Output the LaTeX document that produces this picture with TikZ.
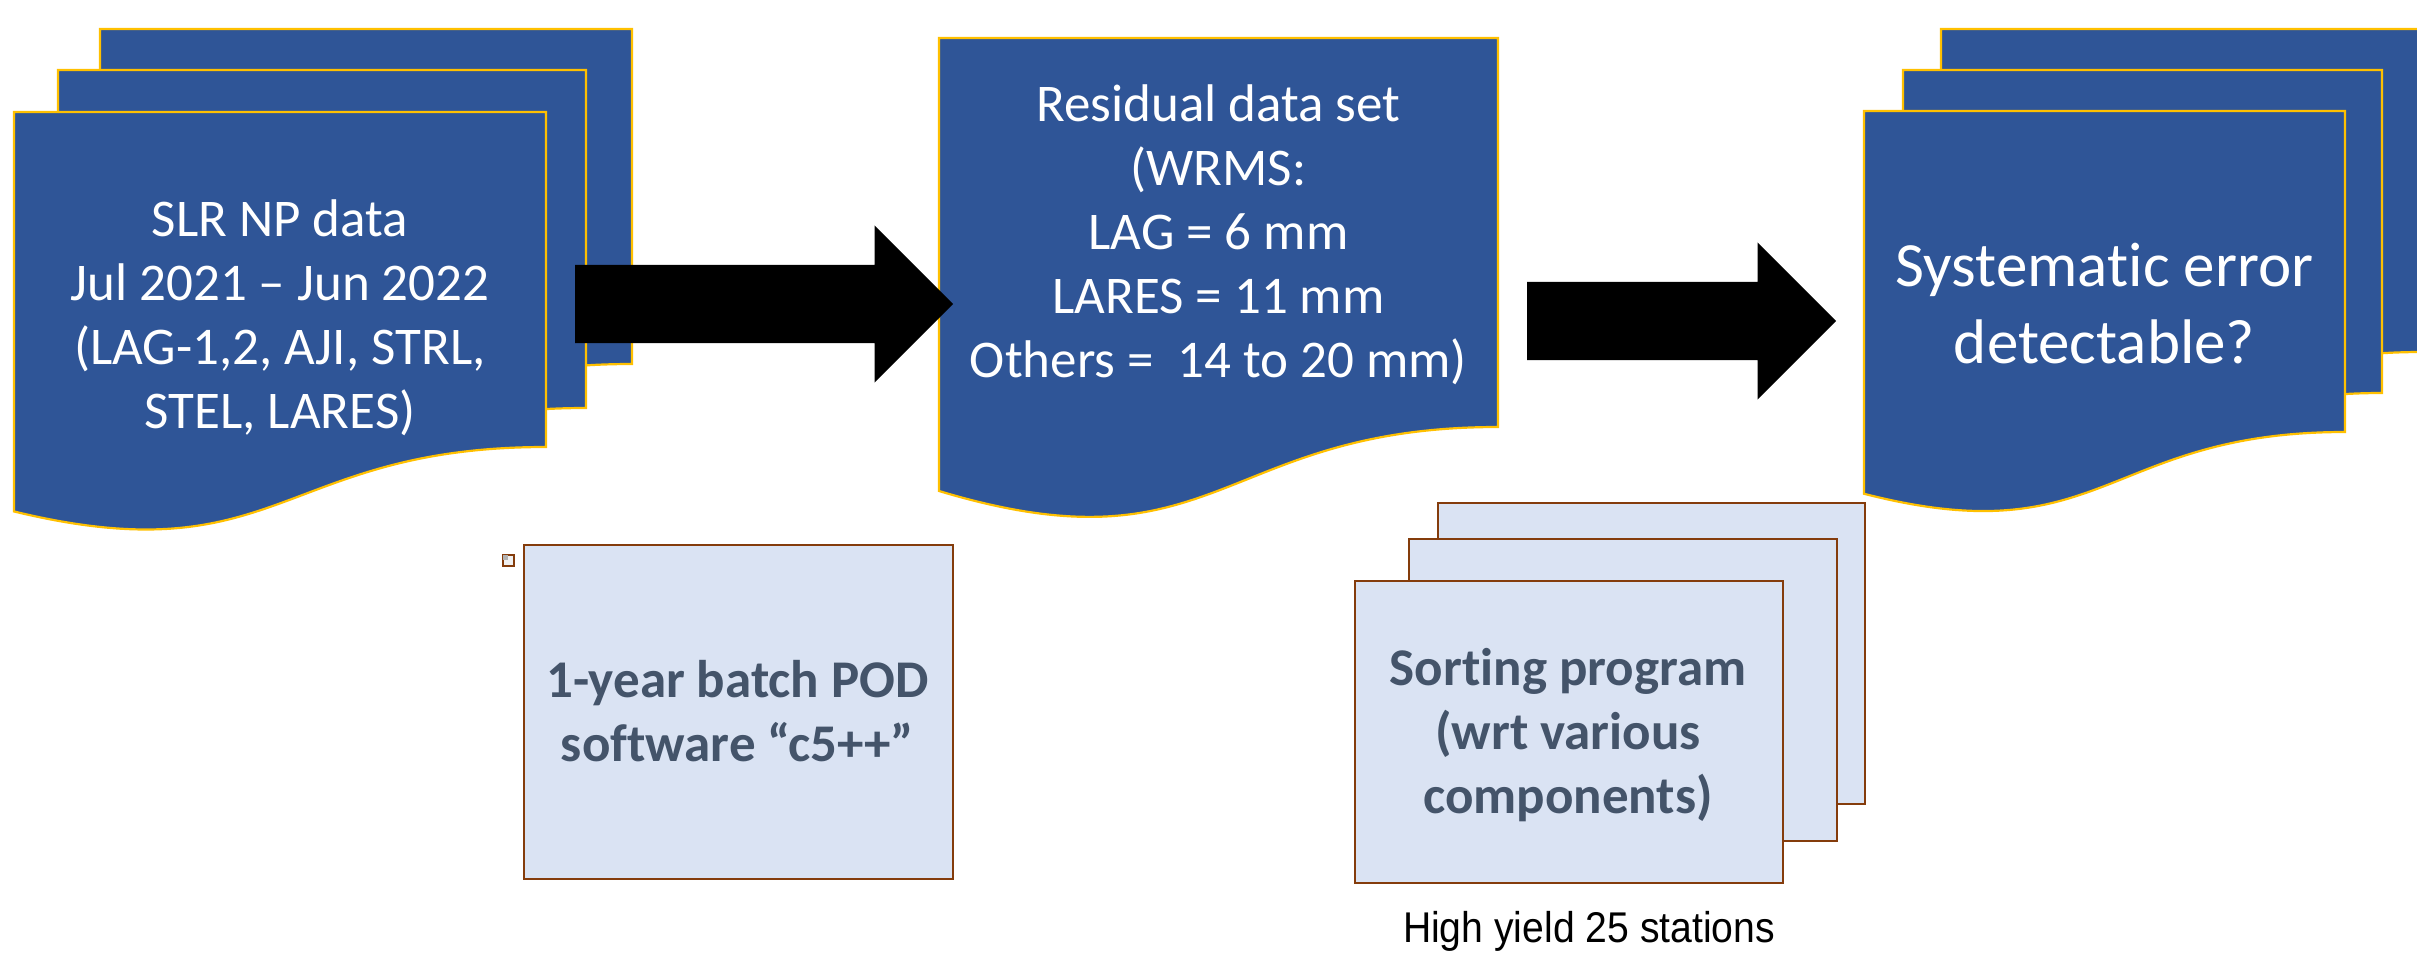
\documentclass[tikz,border=0pt]{standalone}
\usepackage{fontspec}
\setmainfont{Carlito}[Ligatures={TeX,NoCommon}]
\newfontfamily\narrowsans[FakeStretch=0.91]{Liberation Sans}
\usetikzlibrary{shapes.arrows}
\definecolor{docblue}{HTML}{2F5597}
\definecolor{docgold}{HTML}{FFC000}
\definecolor{boxfill}{HTML}{DAE3F3}
\definecolor{boxline}{HTML}{843C0C}
\definecolor{boxtext}{HTML}{44546A}
% multi-document page: left, top, width, side height
\newcommand{\mdocpath}[4]{%
  \filldraw[docshape] (#1,#2) -- (#1+#3,#2) -- (#1+#3,#2+#4)
    .. controls (#1+0.5*#3,#2+#4) and (#1+0.5*#3,#2+1.3847*#4) .. (#1,#2+1.1924*#4) -- cycle;}
% single document page
\newcommand{\sdocpath}[4]{%
  \filldraw[docshape] (#1,#2) -- (#1+#3,#2) -- (#1+#3,#2+#4)
    .. controls (#1+0.5*#3,#2+#4) and (#1+0.5*#3,#2+1.381*#4) .. (#1,#2+1.1645*#4) -- cycle;}
\begin{document}
\begin{tikzpicture}[x=1pt,y=-1pt,
  docshape/.style={fill=docblue,draw=docgold,line width=2.2pt,line join=miter},
  doctext/.style={text=white,align=center,inner sep=0pt,anchor=north,
    font=\fontsize{53}{64}\selectfont},
  bigdoctext/.style={doctext,font=\fontsize{63}{77}\selectfont},
  blockarrow/.style={single arrow,fill=black,draw=none,inner sep=39pt,
    single arrow head extend=39.5pt,minimum width=157pt,anchor=tail},
  lightbox/.style={fill=boxfill,draw=boxline,line width=2pt,anchor=north west,inner sep=0pt},
  boxlabel/.style={text=boxtext,align=center,inner sep=0pt,anchor=north,
    font=\bfseries\fontsize{53}{64}\selectfont}]
\useasboundingbox (0,0) rectangle (2417,964);
\clip (0,0) rectangle (2417,964);

% left stack
\mdocpath{100}{29}{532}{335}
\mdocpath{58}{70}{528}{338}
\mdocpath{14}{112}{532}{335}
\node[doctext] (slr) at (280,191.2) {\strut SLR NP data\\\strut Jul 2021 – Jun 2022\\\strut (LAG-1,2, AJI, STRL,\\\strut STEL, LARES)};

% residual document
\sdocpath{939}{38}{559}{389}
\node[doctext] (resid) at (1218.5,76.9) {\strut Residual data set\\\strut (WRMS:\\\strut LAG = 6 mm\\\strut LARES = 11 mm\\\strut Others = \ 14 to 20 mm)};

% right stack
\mdocpath{1941}{29}{481}{323}
\mdocpath{1903}{70}{479}{323}
\mdocpath{1864}{111}{481}{321}
\node[bigdoctext] (syst) at (2104.5,232.1) {\strut Systematic error\\\strut detectable?};

% block arrows
\node[blockarrow,minimum height=378pt] (arrowA) at (575,304) {};
\node[blockarrow,minimum height=309pt] (arrowB) at (1527,321) {};

% tiny square
\node[draw=boxline,line width=1.5pt,fill=white!94!black,minimum size=11pt,inner sep=0pt,anchor=north west] (tiny) at (502,554) {};
\fill[gray!60] (503.2,555.2) rectangle (507.5,559.5);

% POD box
\node[lightbox,minimum width=429pt,minimum height=334pt] (pod) at (523,544) {};
\node[boxlabel] (podlabel) at (737.5,652.2) {\strut 1-year batch POD\\\strut software “c5++”};

% sorting stack
\node[lightbox,minimum width=427pt,minimum height=301pt] (sortback) at (1437,502) {};
\node[lightbox,minimum width=428pt,minimum height=302pt] (sortmid) at (1408,538) {};
\node[lightbox,minimum width=428pt,minimum height=302pt] (sortfront) at (1354,580) {};
\node[boxlabel] (sortlabel) at (1568,640.2) {\strut Sorting program\\\strut (wrt various\\\strut components)};

\node[font=\narrowsans\fontsize{43}{52}\selectfont,anchor=base,inner sep=0pt] (yield) at (1589,942) {High yield 25 stations};
\end{tikzpicture}
\end{document}
